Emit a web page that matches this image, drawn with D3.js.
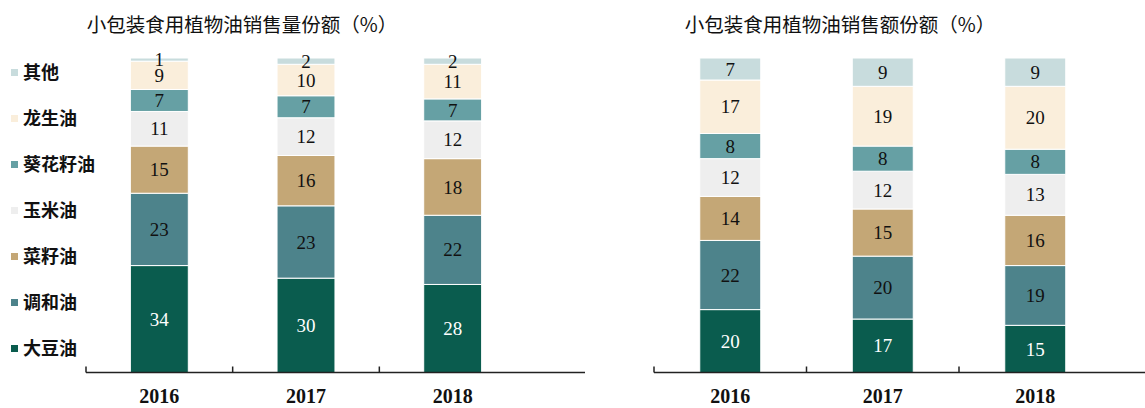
<!DOCTYPE html>
<html>
<head>
<meta charset="utf-8">
<script src="https://cdn.jsdelivr.net/npm/d3@7"></script>
<style>
  body { margin: 0; background: #fff; }
  svg { display: block; }
</style>
</head>
<body>
<div id="chart"></div>
<script>
// data
const years = ["2016", "2017", "2018"];
const oils = ["大豆油", "调和油", "菜籽油", "玉米油", "葵花籽油", "龙生油", "其他"];
const oilColors = ["#0a5c4e", "#4d838b", "#c4a776", "#eeeeee", "#66a0a4", "#faeedb", "#c8dcdd"];

// 销售量份额, one array per year in the order of oils
const volume2016 = [34, 23, 15, 11, 7, 9, 1];
const volume2017 = [30, 23, 16, 12, 7, 10, 2];
const volume2018 = [28, 22, 18, 12, 7, 11, 2];

// 销售额份额
const value2016 = [20, 22, 14, 12, 8, 17, 7];
const value2017 = [17, 20, 15, 12, 8, 19, 9];
const value2018 = [15, 19, 16, 13, 8, 20, 9];

const titleLeft = "小包装食用植物油销售量份额（%）";
const titleRight = "小包装食用植物油销售额份额（%）";

const width = 1145, height = 408;
const svg = d3.select("#chart").append("svg")
    .attr("width", width)
    .attr("height", height);

const color = d3.scaleOrdinal().domain(oils).range(oilColors);

const y = d3.scaleLinear().domain([0, 100]).range([372.5, 58]);

function toRows(series) {
    return years.map((yr, i) => {
        const row = { year: yr };
        oils.forEach((k, j) => row[k] = series[i][j]);
        return row;
    });
}

function drawPanel(opts) {
    const x = d3.scaleBand()
        .domain(years)
        .range(opts.range)
        .paddingInner(opts.pad)
        .paddingOuter(opts.pad / 2);

    const g = svg.append("g");

    // title
    g.append("text")
        .attr("x", opts.titleX)
        .attr("y", 32)
        .attr("text-anchor", "middle")
        .style("font-family", "'Noto Sans CJK SC', sans-serif")
        .style("font-size", "19.5px")
        .style("fill", "#111")
        .text(opts.title);

    const stacked = d3.stack().keys(oils)(toRows(opts.series));

    const layers = g.selectAll(".layer")
        .data(stacked)
        .enter()
        .append("g")
        .attr("fill", d => color(d.key));

    layers.selectAll("rect")
        .data(d => d)
        .enter()
        .append("rect")
        .attr("x", d => x(d.data.year))
        .attr("y", d => y(d[1]))
        .attr("width", x.bandwidth())
        .attr("height", d => y(d[0]) - y(d[1]))
        .attr("stroke", "#fff")
        .attr("stroke-width", 1);

    // value labels
    layers.each(function(layer) {
        d3.select(this).selectAll("text")
            .data(layer)
            .enter()
            .append("text")
            .attr("x", d => x(d.data.year) + x.bandwidth() / 2)
            .attr("y", d => (y(d[0]) + y(d[1])) / 2)
            .attr("dy", "0.35em")
            .attr("text-anchor", "middle")
            .style("font-family", "'Liberation Serif', serif")
            .style("font-size", "19px")
            .style("fill", layer.key === "大豆油" ? "#fff" : "#111")
            .text(d => d[1] - d[0]);
    });

    // x axis: ticks between categories, line runs past the last bar
    const axisY = y(0);
    const step = x.step();
    g.append("line")
        .attr("x1", opts.range[0])
        .attr("x2", opts.axisEnd)
        .attr("y1", axisY)
        .attr("y2", axisY)
        .attr("stroke", "#222")
        .attr("stroke-width", 1.5);

    g.selectAll(".tick-mark")
        .data(years)
        .enter()
        .append("line")
        .attr("x1", (d, i) => opts.range[0] + i * step)
        .attr("x2", (d, i) => opts.range[0] + i * step)
        .attr("y1", axisY)
        .attr("y2", axisY - 6)
        .attr("stroke", "#222")
        .attr("stroke-width", 1.5);

    g.selectAll(".year-label")
        .data(years)
        .enter()
        .append("text")
        .attr("x", d => x(d) + x.bandwidth() / 2)
        .attr("y", 403)
        .attr("text-anchor", "middle")
        .style("font-family", "'Liberation Serif', serif")
        .style("font-weight", "bold")
        .style("font-size", "20px")
        .style("fill", "#111")
        .text(d => d);
}

drawPanel({
    title: titleLeft,
    titleX: 242,
    series: [volume2016, volume2017, volume2018],
    range: [86, 526],
    pad: 0.605,
    axisEnd: 585
});

drawPanel({
    title: titleRight,
    titleX: 840,
    series: [value2016, value2017, value2018],
    range: [654, 1111.5],
    pad: 0.6,
    axisEnd: 1145
});

// legend (top item is 其他)
const legendOrder = oils.slice().reverse();
const legend = svg.selectAll(".legend")
    .data(legendOrder)
    .enter()
    .append("g")
    .attr("transform", (d, i) => `translate(11, ${73 + i * 46})`);

legend.append("rect")
    .attr("x", 0)
    .attr("y", -4)
    .attr("width", 7)
    .attr("height", 7)
    .attr("fill", d => color(d));

legend.append("text")
    .attr("x", 12)
    .attr("y", 0)
    .attr("dy", "0.35em")
    .style("font-family", "'Noto Sans CJK SC', sans-serif")
    .style("font-weight", "bold")
    .style("font-size", "18px")
    .style("fill", "#111")
    .text(d => d);
</script>
</body>
</html>
